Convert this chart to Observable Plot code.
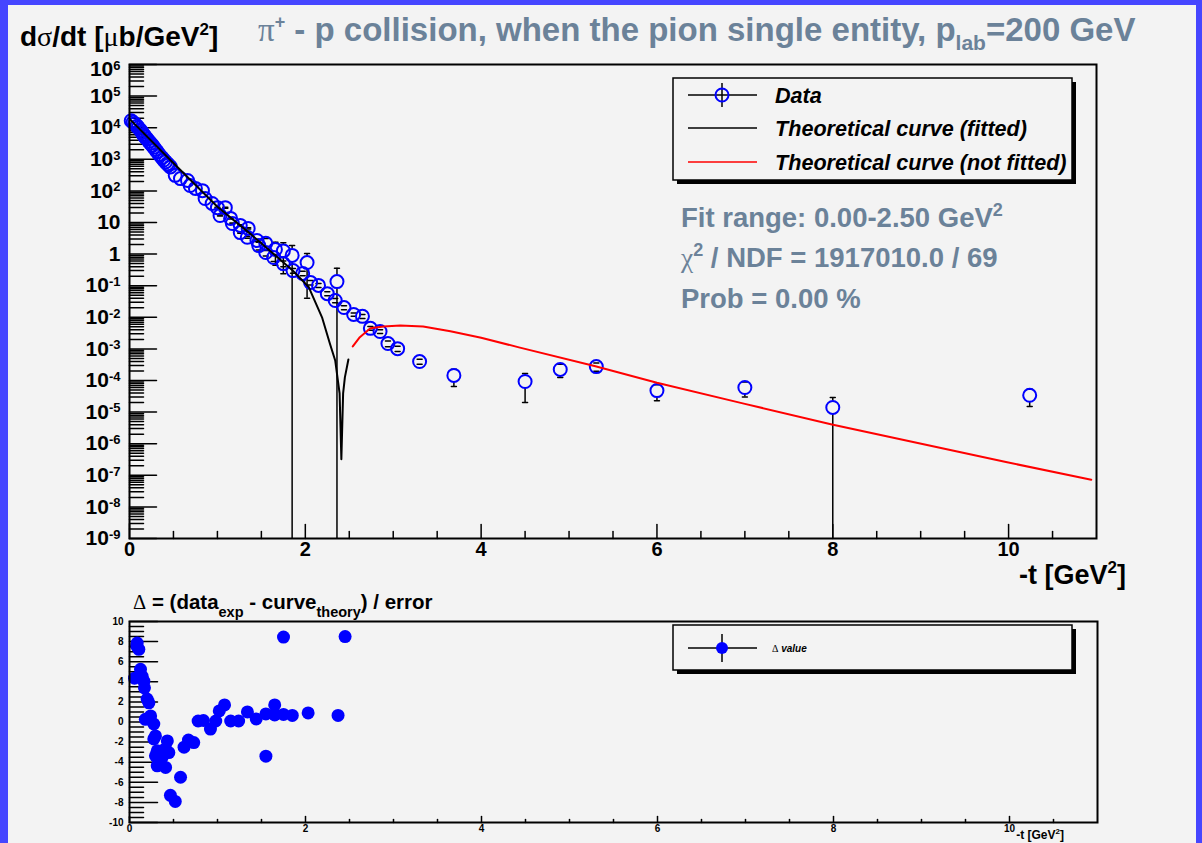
<!DOCTYPE html>
<html><head><meta charset="utf-8">
<script src="https://cdn.jsdelivr.net/npm/d3@7"></script>
<script src="https://cdn.jsdelivr.net/npm/@observablehq/plot@0.6"></script>
<style>
html,body{margin:0;padding:0;}
body{width:1202px;height:843px;background:#4646ff;position:relative;overflow:hidden;font-family:"Liberation Sans",Arial,Helvetica,sans-serif;}
#panel{position:absolute;left:8px;top:5px;width:1188px;height:838px;background:#f3f3f3;}
.abs{position:absolute;left:0;top:0;}
</style></head><body>
<div id="panel"></div>
<div id="main" class="abs"></div>
<div id="resid" class="abs" style="top:560px"></div>
<svg id="overlay" class="abs" width="1202" height="843" style="font-family:'Liberation Sans',Arial,sans-serif;font-weight:bold">
  <text x="20" y="46" font-size="28" fill="#000">d<tspan font-family="Liberation Serif" font-weight="normal">σ</tspan>/dt [<tspan font-family="Liberation Serif" font-weight="normal">μ</tspan>b/GeV<tspan dy="-11" font-size="17">2</tspan><tspan dy="11">]</tspan></text>
  <text x="258" y="41" font-size="33" fill="#6b8299"><tspan font-family="Liberation Serif" font-weight="normal">π</tspan><tspan dy="-13" font-size="18">+</tspan><tspan dy="13"> - p collision, when the pion single entity, p</tspan><tspan dy="9" font-size="21">lab</tspan><tspan dy="-9">=200 GeV</tspan></text>
  <g fill="#6b8299" font-size="27.5">
    <text x="681" y="227">Fit range: 0.00-2.50 GeV<tspan dy="-11" font-size="18">2</tspan></text>
    <text x="681" y="267"><tspan font-family="Liberation Serif" font-weight="normal">χ</tspan><tspan dy="-11" font-size="18">2</tspan><tspan dy="11"> / NDF = 1917010.0 / 69</tspan></text>
    <text x="681" y="308">Prob = 0.00 %</text>
  </g>
  <text x="1126" y="584" font-size="27" text-anchor="end">-t [GeV<tspan dy="-11" font-size="17">2</tspan><tspan dy="11">]</tspan></text>
  <!-- main legend -->
  <rect x="677" y="82" width="399" height="102" fill="#000"/>
  <rect x="673" y="78" width="399" height="102" fill="#f3f3f3" stroke="#000" stroke-width="1.5"/>
  <line x1="688" x2="757" y1="95" y2="95" stroke="#000" stroke-width="1.5"/>
  <line x1="722" x2="722" y1="83" y2="107" stroke="#000" stroke-width="1.5"/>
  <circle cx="722" cy="95" r="6.5" fill="none" stroke="#0000ff" stroke-width="2"/>
  <line x1="688" x2="757" y1="128" y2="128" stroke="#000" stroke-width="1.5"/>
  <line x1="688" x2="757" y1="162" y2="162" stroke="#ff0000" stroke-width="1.5"/>
  <g font-size="21.6" font-style="italic" fill="#000">
    <text x="775" y="103">Data</text>
    <text x="775" y="136">Theoretical curve (fitted)</text>
    <text x="775" y="170">Theoretical curve (not fitted)</text>
  </g>
  <!-- residual title -->
  <text x="133" y="609" font-size="20.5" fill="#000"><tspan font-family="Liberation Serif" font-weight="normal">Δ</tspan> = (data<tspan dy="8" font-size="14.5">exp</tspan><tspan dy="-8"> - curve</tspan><tspan dy="8" font-size="14.5">theory</tspan><tspan dy="-8">) / error</tspan></text>
  <text x="1064" y="839" font-size="12" text-anchor="end">-t [GeV<tspan dy="-5" font-size="8">2</tspan><tspan dy="5">]</tspan></text>
  <!-- residual legend -->
  <rect x="677" y="629" width="399" height="45" fill="#000"/>
  <rect x="673" y="625" width="399" height="45" fill="#f3f3f3" stroke="#000" stroke-width="1.5"/>
  <line x1="688" x2="757" y1="648" y2="648" stroke="#000" stroke-width="1.5"/>
  <line x1="722" x2="722" y1="634" y2="662" stroke="#000" stroke-width="1.5"/>
  <circle cx="722" cy="648" r="6" fill="#0000ff"/>
  <text x="772" y="652" font-size="10" font-style="italic" fill="#000"><tspan font-family="Liberation Serif" font-weight="normal" font-style="normal">Δ</tspan> value</text>
</svg>
<script>
// ---- data: measured dσ/dt (μb/GeV²) ----
const dataT = [0.02,0.04,0.06,0.085,0.10,0.125,0.143,0.16,0.17,0.18,0.20,0.22,0.24,0.26,0.276,0.295,0.315,0.34,0.37,0.39,0.41,0.43,0.445,0.465,0.52,0.58,0.66,0.69,0.75,0.83,0.86,0.94,1.0,1.03,1.09,1.15,1.17,1.26,1.26,1.34,1.35,1.45,1.47,1.55,1.55,1.64,1.66,1.75,1.75,1.85,1.86,1.97,2.02,2.06,2.15,2.25,2.34,2.36,2.44,2.55,2.65,2.74,2.85,2.94,3.05,3.30,3.69,4.50,4.90,5.31,6.0,7.0,8.0,10.24];
const dataV = [16600,14800,13200,11200,10000,8300,7100,6000,5500,5000,4400,3700,3200,2750,2400,2050,1740,1400,1120,950,830,720,660,575,310,245,214,148,120,102,57.5,40,29.5,16.6,29.5,13.5,9.3,8.1,4.8,3.4,6.5,2.7,1.86,2.19,1.12,0.78,1.41,1.26,0.5,0.91,0.30,0.245,0.54,0.126,0.102,0.056,0.034,0.135,0.0204,0.0123,0.0107,0.00447,0.00355,0.00148,0.00102,0.000398,1.45e-4,9.3e-5,2.24e-4,2.75e-4,4.8e-5,6.0e-5,1.4e-5,3.4e-5];
const dataErr = [0,0,0,0,0,0,0,0,0,0,0,0,0,0,0,0,0,0,0,0,0,0,0,0,0,0,0,0,0,0,0,0,
  1.0,0.6,1.0,0.5,0.4,0.35,0.25,0.2,0.3,0.2,0.5,0.9,0.25,0.2,0.97,1.02,0.1,0.95,0.05,0.04,0.5,0.02,0.015,0.008,0.005,0.22,0.003,0.0015,0.0015,0.0006,0.0005,0.0003,0.0002,0.00007,8e-5,7.3e-5,1.0e-4,0.8e-4,2.5e-5,3e-5,1.5e-5,1.9e-5];
// ---- fitted theoretical curve ----
const fitT = [0,0.47,1.0,1.375,1.85,2.04,2.19,2.28,2.34,2.36,2.39,2.41,2.43,2.45,2.49];
const fitV = [19000,912,31.6,4.37,0.316,0.089,0.010,0.00145,4.3e-4,1.66e-4,3.9e-5,3.2e-7,3.9e-5,1.26e-4,4.6e-4];
// ---- not fitted theoretical curve ----
const nfT = [2.54,2.62,2.74,2.89,3.08,3.34,3.65,4.0,4.43,5.30,6.0,7.0,7.99,9.97,10.94];
const nfV = [1.2e-3,2.34e-3,4.47e-3,5.13e-3,5.5e-3,5.13e-3,3.63e-3,2.24e-3,1.12e-3,2.82e-4,8.5e-5,1.82e-5,4.07e-6,2.63e-7,7.24e-8];
// ---- residuals Δ ----
const resT = [0.057,0.08,0.0875,0.106,0.125,0.144,0.163,0.17,0.18,0.2,0.22,0.24,0.276,0.276,0.295,0.295,0.315,0.315,0.37,0.39,0.41,0.41,0.43,0.447,0.465,0.52,0.58,0.62,0.67,0.73,0.78,0.84,0.92,0.98,1.02,1.08,1.15,1.24,1.34,1.44,1.55,1.55,1.65,1.65,1.75,1.75,1.85,2.03,2.37,2.45];
const resD = [4.36,7.6,7.85,7.23,5.25,4.55,4.06,3.4,0.27,2.28,1.91,0.6,-0.2,-1.68,-1.39,-3.37,-2.87,-4.36,-3.53,-2.8,-2.67,-4.52,-1.88,-3.04,-7.3,-7.9,-5.5,-2.5,-1.8,-2.05,0.1,0.15,-0.7,0.1,1.1,1.7,0.1,0.1,1.0,0.3,0.8,-3.4,1.7,0.7,0.75,8.45,0.65,0.9,0.65,8.5];
// ---- ticks ----
const yTickExp = [6,5,4,3,2,1,0,-1,-2,-3,-4,-5,-6,-7,-8,-9];
const xTicks = [0,2,4,6,8,10];
const resYTicks = [-10,-8,-6,-4,-2,0,2,4,6,8,10];

const yMin = 1e-9, yMax = 1e6;
const seg = {draw(ctx, l) { ctx.moveTo(0, 0); ctx.lineTo(0, -l); }};
const majorY = yTickExp.map(e => Math.pow(10, e));
const minorY = [];
for (let e = -9; e < 6; e++) for (let k = 2; k <= 9; k++) minorY.push(k * Math.pow(10, e));
const minorX = d3.range(1, 22).map(i => i * 0.5).filter(v => Math.round(v * 2) % 4 !== 0);
const resMinorY = d3.range(-20, 21).map(i => i * 0.5).filter(v => Math.round(v * 2) % 4 !== 0);

const rows = dataT.map((t, i) => ({t, v: dataV[i], e: dataErr[i]}));
const G = Math.pow(10, 0.2); // marker half-size in decades (gap of error bar)
const bars = rows.filter(d => d.e > 0).map(d => ({...d, hi: d.v + d.e, lo: d.v - d.e > 0 ? d.v - d.e : yMin}));
const fitRows = fitT.map((t, i) => ({t, v: fitV[i]}));
const nfRows = nfT.map((t, i) => ({t, v: nfV[i]}));
const resRows = resT.map((t, i) => ({t, d: resD[i]}));

const fmtY = d => { const e = Math.round(Math.log10(d)); return e === 0 ? "1" : e === 1 ? "10" : "10^" + e; };
const tick = (o) => ({stroke: "black", strokeWidth: 1.5, anchor: "start", shape: seg, ...o});

const mainPlot = Plot.plot({
  width: 1202, height: 600,
  marginLeft: 129, marginRight: 106, marginTop: 64, marginBottom: 62,
  style: {background: "transparent", fontFamily: "'Liberation Sans', Arial, sans-serif", overflow: "visible"},
  x: {domain: [0, 11], axis: null},
  y: {type: "log", domain: [yMin, yMax], axis: null},
  marks: [
    Plot.vector(minorY, tick({y: d => d, frameAnchor: "left", rotate: 90, length: 14})),
    Plot.vector(majorY, tick({y: d => d, frameAnchor: "left", rotate: 90, length: 27})),
    Plot.vector(minorX, tick({x: d => d, frameAnchor: "bottom", rotate: 0, length: 7})),
    Plot.vector(xTicks, tick({x: d => d, frameAnchor: "bottom", rotate: 0, length: 14})),
    Plot.axisY({ticks: majorY.filter(v => v < yMax), tickSize: 0, tickPadding: 9, tickFormat: fmtY, fontSize: 21, fontWeight: "bold", label: null}),
    Plot.axisY({ticks: [yMax], tickSize: 0, tickPadding: 9, tickFormat: fmtY, fontSize: 21, fontWeight: "bold", label: null, dy: 5}),
    Plot.axisX({ticks: xTicks, tickSize: 0, tickPadding: 3, fontSize: 20, fontWeight: "bold", label: null}),
    Plot.ruleX(bars.filter(d => d.hi > d.v * G), {x: "t", y1: "hi", y2: d => d.v * G, stroke: "black", strokeWidth: 1.5}),
    Plot.ruleX(bars.filter(d => d.lo < d.v / G), {x: "t", y1: d => d.v / G, y2: "lo", stroke: "black", strokeWidth: 1.5}),
    Plot.vector(bars, {x: "t", y: "hi", rotate: 90, length: 5, anchor: "middle", shape: seg, stroke: "black", strokeWidth: 1.5}),
    Plot.vector(bars.filter(d => d.v - d.e > 0), {x: "t", y: "lo", rotate: 90, length: 5, anchor: "middle", shape: seg, stroke: "black", strokeWidth: 1.5}),
    Plot.dot(rows, {x: "t", y: "v", r: 6.5, stroke: "#0000ff", strokeWidth: 2, fill: "none"}),
    Plot.line(fitRows, {x: "t", y: "v", stroke: "black", strokeWidth: 2}),
    Plot.line(nfRows, {x: "t", y: "v", stroke: "#ff0000", strokeWidth: 2}),
    Plot.frame({stroke: "black", strokeWidth: 2})
  ]
});

const resPlot = Plot.plot({
  width: 1202, height: 283,
  marginLeft: 129, marginRight: 105, marginTop: 61, marginBottom: 21,
  style: {background: "transparent", fontFamily: "'Liberation Sans', Arial, sans-serif", overflow: "visible"},
  x: {domain: [0, 11], axis: null},
  y: {domain: [-10, 10], axis: null},
  marks: [
    Plot.vector(resMinorY, tick({y: d => d, frameAnchor: "left", rotate: 90, length: 14})),
    Plot.vector(resYTicks, tick({y: d => d, frameAnchor: "left", rotate: 90, length: 28})),
    Plot.vector(minorX, tick({x: d => d, frameAnchor: "bottom", rotate: 0, length: 3})),
    Plot.vector(xTicks, tick({x: d => d, frameAnchor: "bottom", rotate: 0, length: 6})),
    Plot.axisY({ticks: resYTicks, tickSize: 0, tickPadding: 6, tickFormat: d => String(d), fontSize: 10, fontWeight: "bold", label: null}),
    Plot.axisX({ticks: xTicks, tickSize: 0, tickPadding: 2, tickFormat: d => String(d), fontSize: 10, fontWeight: "bold", label: null}),
    Plot.dot(resRows, {x: "t", y: "d", r: 6.5, fill: "#0000ff"}),
    Plot.frame({stroke: "black", strokeWidth: 2})
  ]
});

// superscripts on log-axis labels
mainPlot.querySelectorAll('g[aria-label="y-axis tick label"] text').forEach(t => {
  const s = t.textContent;
  if (s.includes("^")) {
    const [b, e] = s.split("^");
    t.textContent = b;
    const ts = document.createElementNS("http://www.w3.org/2000/svg", "tspan");
    ts.setAttribute("dy", "-0.5em");
    ts.setAttribute("font-size", "13");
    ts.textContent = e;
    t.appendChild(ts);
  }
});

document.getElementById("main").appendChild(mainPlot);
document.getElementById("resid").appendChild(resPlot);
</script>
</body></html>
